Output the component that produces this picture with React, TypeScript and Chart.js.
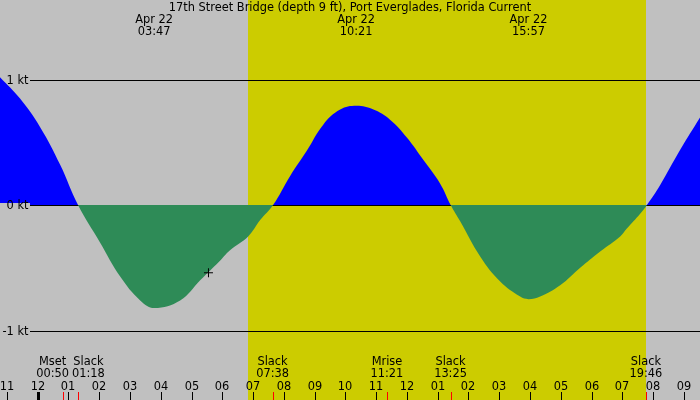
import React, { useEffect, useRef } from "react";
import Chart from "chart.js/auto";

const title = "17th Street Bridge (depth 9 ft), Port Everglades, Florida Current";

// hours from midnight of Apr 22, current in knots (flood +, ebb -)
const hours = [
  -1.23, -0.58, 0.08, 0.73, 1.31, 2.03, 2.68, 3.33, 3.79, 4.63, 5.28, 5.9, 6.25,
  6.84, 7.23, 7.65, 8.2, 8.74, 9.28, 9.83, 10.36, 10.91, 11.45, 11.99, 12.53,
  13.08, 13.42, 13.73, 14.38, 15.03, 15.68, 15.95, 16.33, 16.98, 17.63, 18.28,
  18.93, 19.14, 19.58, 19.8, 20.23, 20.88, 21.53,
];
const speed = [
  1.02, 0.85, 0.62, 0.32, 0, -0.3, -0.57, -0.76, -0.82, -0.76, -0.6, -0.45, -0.36,
  -0.25, -0.12, 0, 0.23, 0.43, 0.64, 0.76, 0.79, 0.76, 0.68, 0.54, 0.36,
  0.17, 0, -0.13, -0.41, -0.61, -0.73, -0.75, -0.73, -0.64, -0.5, -0.37,
  -0.25, -0.19, -0.07, 0, 0.16, 0.44, 0.7,
];

const hourLabels = [
  "11", "12", "01", "02", "03", "04", "05", "06", "07", "08", "09", "10",
  "11", "12", "01", "02", "03", "04", "05", "06", "07", "08", "09",
];
const firstHour = -1;

const speedTicks = [1, 0, -1];
const speedLabels = ["1 kt", "0 kt", "-1 kt"];

const peakHours = [3.783, 10.35, 15.95];
const peakDates = ["Apr 22", "Apr 22", "Apr 22"];
const peakTimes = ["03:47", "10:21", "15:57"];

const eventNames = ["Mset", "Slack", "Slack", "Mrise", "Slack", "Slack"];
const eventTimes = ["00:50", "01:18", "07:38", "11:21", "13:25", "19:46"];
const eventHours = [0.833, 1.3, 7.633, 11.35, 13.417, 19.767];

const sunrise = 6.83;
const sunset = 19.77;

const nowHour = 5.55;
const nowSpeed = -0.54;

const GRAY = "#c0c0c0";
const YELLOW = "#cccc00";
const FONT = "11.4px 'DejaVu Sans'";

const tidePlugin = {
  id: "tide",
  beforeDraw(chart: any) {
    const { ctx, scales } = chart;
    const x = scales.x;
    ctx.save();
    ctx.fillStyle = GRAY;
    ctx.fillRect(0, 0, chart.width, chart.height);
    const x1 = Math.round(x.getPixelForValue(sunrise));
    const x2 = Math.round(x.getPixelForValue(sunset));
    ctx.fillStyle = YELLOW;
    ctx.fillRect(x1, 0, x2 - x1, chart.height);
    ctx.restore();
  },
  afterDatasetDraw(chart: any, args: any) {
    // zero line sits over the flood fill but under the ebb fill
    if (args.index !== 0) return;
    const { ctx, scales } = chart;
    const y0 = scales.y.getPixelForValue(0);
    ctx.save();
    ctx.fillStyle = GRAY;
    ctx.fillRect(0, Math.round(y0) - 2, 30, 10);
    ctx.fillStyle = "#000";
    ctx.fillRect(30, Math.round(y0), chart.width - 30, 1);
    ctx.restore();
  },
  afterDatasetsDraw(chart: any) {
    const { ctx, scales } = chart;
    const x = scales.x;
    const y = scales.y;
    ctx.save();
    ctx.fillStyle = "#000";
    ctx.font = FONT;

    // kt lines and labels
    speedTicks.forEach((v, i) => {
      const py = Math.round(y.getPixelForValue(v));
      if (v !== 0) ctx.fillRect(30, py, chart.width - 30, 1);
      ctx.textAlign = "right";
      ctx.fillText(speedLabels[i], 28.5, py + 4);
    });

    ctx.textAlign = "center";
    ctx.fillText(title, chart.width / 2, 11);

    peakHours.forEach((h, i) => {
      const px = x.getPixelForValue(h);
      ctx.fillText(peakDates[i], px, 23);
      ctx.fillText(peakTimes[i], px, 35);
    });

    // event labels, pushed apart where they would overlap
    const centers = eventHours.map((h) => x.getPixelForValue(h));
    const widths = eventNames.map((n, i) =>
      Math.max(ctx.measureText(n).width, ctx.measureText(eventTimes[i]).width)
    );
    for (let i = 1; i < centers.length; i++) {
      const need = (widths[i - 1] + widths[i]) / 2 + 3;
      const gap = centers[i] - centers[i - 1];
      if (gap < need) {
        const shift = (need - gap) / 2;
        centers[i - 1] -= shift;
        centers[i] += shift;
      }
    }
    eventNames.forEach((n, i) => {
      ctx.fillText(n, centers[i], 365);
      ctx.fillText(eventTimes[i], centers[i], 377);
    });

    // hour ticks
    hourLabels.forEach((label, i) => {
      const h = firstHour + i;
      const px = Math.round(x.getPixelForValue(h));
      ctx.fillText(label, px, 390);
      const w = h % 24 === 0 ? 3 : 1;
      ctx.fillRect(px - Math.floor(w / 2), 392, w, 8);
    });

    ctx.fillStyle = "#ff0000";
    eventHours.forEach((h) => {
      const px = Math.round(x.getPixelForValue(h));
      ctx.fillRect(px, 392, 1, 8);
    });
    ctx.restore();
  },
};

const App: React.FC = () => {
  const chartRef = useRef<HTMLCanvasElement | null>(null);
  const chartInstance = useRef<Chart | null>(null);

  useEffect(() => {
    document.body.style.margin = "0";
    if (!chartRef.current) return;
    const ctx = chartRef.current.getContext("2d");
    if (!ctx) return;
    if (chartInstance.current) chartInstance.current.destroy();

    const points = hours.map((h, i) => ({ x: h, y: speed[i] }));

    chartInstance.current = new Chart(ctx, {
      type: "line",
      data: {
        datasets: [
          {
            label: "flood",
            data: points,
            order: 2,
            borderColor: "rgba(0,0,0,0)",
            borderWidth: 0,
            pointRadius: 0,
            tension: 0.4,
            fill: { target: "origin", above: "#0000ff", below: "rgba(0,0,0,0)" },
          },
          {
            label: "ebb",
            data: points,
            order: 1,
            borderColor: "rgba(0,0,0,0)",
            borderWidth: 0,
            pointRadius: 0,
            tension: 0.4,
            fill: { target: "origin", above: "rgba(0,0,0,0)", below: "#2e8b57" },
          },
          {
            label: "now",
            data: [{ x: nowHour, y: nowSpeed }],
            order: 0,
            showLine: false,
            pointStyle: "cross",
            pointRadius: 4.5,
            pointBorderColor: "#000",
            pointBorderWidth: 1,
          },
        ],
      },
      options: {
        animation: false,
        responsive: false,
        devicePixelRatio: 1,
        layout: { padding: 0, autoPadding: false },
        scales: {
          x: {
            type: "linear",
            display: false,
            min: -37.7 / 30.77,
            max: (700 - 37.7) / 30.77,
          },
          y: {
            display: false,
            min: (205 - 400) / 125.5,
            max: 205 / 125.5,
          },
        },
        plugins: {
          legend: { display: false },
          tooltip: { enabled: false },
        },
      },
      plugins: [tidePlugin],
    });

    return () => {
      if (chartInstance.current) {
        chartInstance.current.destroy();
        chartInstance.current = null;
      }
    };
  }, []);

  return (
    <div style={{ width: 700, height: 400 }}>
      <canvas ref={chartRef} width={700} height={400}></canvas>
    </div>
  );
};

export default App;
